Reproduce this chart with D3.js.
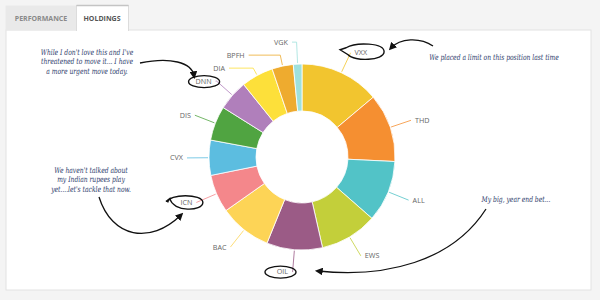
<!DOCTYPE html>
<html>
<head>
<meta charset="utf-8">
<script src="https://cdn.jsdelivr.net/npm/d3@7"></script>
<style>
  html, body { margin: 0; padding: 0; background: #f4f4f4; }
  svg { display: block; }
</style>
</head>
<body>
<div id="chart"></div>
<script>
// holdings, clockwise from 12 o'clock
const tickers = ["VXX", "THD", "ALL", "EWS", "OIL", "BAC", "ICN", "CVX", "DIS", "DNN", "DIA", "BPFH", "VGK"];
const weights = [13.9, 11.9, 10.7, 10.0, 9.7, 9.1, 6.6, 6.1, 6.0, 5.3, 5.6, 3.7, 1.5];
const colors = ["#f2c52f", "#f58f31", "#52c3c7", "#c3cf3a", "#9b5b86", "#fdd456", "#f4878b",
                "#5cbde0", "#50a441", "#b07fbb", "#fde03a", "#eeab2f", "#9fe1dc"];

const tabs = ["PERFORMANCE", "HOLDINGS"];

// hand written notes
const notes = [
  { lines: ["While I don't love this and I've", "threatened to move it... I have", "a more urgent move today."], x: 87, y: 55 },
  { lines: ["We placed a limit on this position last time"], x: 494, y: 60 },
  { lines: ["We haven't talked about", "my Indian rupees play", "yet....let's tackle that now."], x: 91, y: 173 },
  { lines: ["My big, year end bet..."], x: 516, y: 202 }
];
const circled = ["DNN", "VXX", "ICN", "OIL"];

const width = 600, height = 300;
const svg = d3.select("#chart").append("svg")
    .attr("width", width)
    .attr("height", height);

// panel + tabs
svg.append("rect").attr("x", 6).attr("y", 30).attr("width", 585).attr("height", 260)
    .attr("fill", "#fff").attr("stroke", "#e2e2e2");
svg.append("rect").attr("x", 5.5).attr("y", 5.5).attr("width", 71).attr("height", 25)
    .attr("fill", "#e9e9e9");
svg.append("rect").attr("x", 76.5).attr("y", 5.5).attr("width", 52).attr("height", 25)
    .attr("fill", "#fff").attr("stroke", "#dcdcdc");
svg.append("line").attr("x1", 76.5).attr("x2", 128.5).attr("y1", 5.5).attr("y2", 5.5)
    .attr("stroke", "#c4c4c4").attr("stroke-width", 1.5);
svg.append("rect").attr("x", 77).attr("y", 29).attr("width", 51).attr("height", 3).attr("fill", "#fff");
svg.selectAll(".tab")
    .data(tabs)
    .enter()
    .append("text")
    .attr("class", "tab")
    .attr("x", (d, i) => i == 0 ? 41 : 102)
    .attr("y", 21)
    .attr("text-anchor", "middle")
    .style("font-family", "'Open Sans', sans-serif")
    .style("font-size", "7px")
    .style("font-weight", "bold")
    .attr("fill", (d, i) => i == 0 ? "#8a8a8a" : "#555")
    .text(d => d);

// donut
const cx = 302, cy = 157;
const R = 93, r0 = 46, Rl = 115;
const data = tickers.map((t, i) => ({ name: t, value: weights[i], color: colors[i] }));

const pie = d3.pie().value(d => d.value).sort(null);
const arc = d3.arc().innerRadius(r0).outerRadius(R);
const arcs = pie(data);

const g = svg.append("g").attr("transform", `translate(${cx},${cy})`);
g.selectAll("path.slice")
    .data(arcs)
    .enter()
    .append("path")
    .attr("class", "slice")
    .attr("d", arc)
    .attr("fill", d => d.data.color)
    .attr("stroke", "#fff")
    .attr("stroke-width", 0.8);

// label positions: natural spot on radius Rl, then push apart vertically
const mid = d => (d.startAngle + d.endAngle) / 2;
arcs.forEach(d => {
    const a = mid(d);
    d.side = Math.sin(a) < 0 ? -1 : 1;
    d.ly = -Rl * Math.cos(a);
});
[-1, 1].forEach(side => {
    const grp = arcs.filter(d => d.side == side).sort((a, b) => a.ly - b.ly);
    for (let i = 1; i < grp.length; i++) {
        if (grp[i].ly - grp[i - 1].ly < 13) grp[i].ly = grp[i - 1].ly + 13;
    }
});
arcs.forEach(d => {
    const a = mid(d);
    d.lx = d.side * Math.sqrt(Math.max(Rl * Rl - d.ly * d.ly, 100));
    const c = Math.cos(a);
    let rr = Math.abs(c) > 0.05 ? -d.ly / c : Rl;
    rr = Math.max(R + 4, Math.min(Rl, rr));
    d.pts = [[(R + 1) * Math.sin(a), -(R + 1) * Math.cos(a)],
             [rr * Math.sin(a), -rr * Math.cos(a)],
             [d.lx, d.ly]];
});

g.selectAll("polyline")
    .data(arcs)
    .enter()
    .append("polyline")
    .attr("points", d => d.pts.join(" "))
    .attr("fill", "none")
    .attr("stroke", d => d.data.color)
    .attr("stroke-width", 0.8);

g.selectAll("text.lbl")
    .data(arcs)
    .enter()
    .append("text")
    .attr("class", "lbl")
    .attr("x", d => d.lx + d.side * 4)
    .attr("y", d => d.ly)
    .attr("dy", "0.35em")
    .attr("text-anchor", d => d.side < 0 ? "end" : "start")
    .style("font-family", "'Open Sans', sans-serif")
    .style("font-size", "7.2px")
    .attr("fill", "#666")
    .text(d => d.data.name);

// circles drawn round some tickers
const ring = svg.append("g").attr("fill", "none").attr("stroke", "#111").attr("stroke-width", 1.4);
arcs.filter(d => circled.includes(d.data.name)).forEach(d => {
    const w = d.data.name.length * 5 + 8;
    const ex = cx + d.lx + d.side * (4 + w / 2 - 4);
    const ey = cy + d.ly;
    if (d.data.name == "VXX") {
        ring.append("path")
            .attr("d", `M${ex - 16},${ey - 5} C${ex - 6},${ey - 11} ${ex + 22},${ey - 10} ${ex + 22},${ey - 1}`
                + ` C${ex + 22},${ey + 8} ${ex - 8},${ey + 9} ${ex - 14},${ey + 2} L${ex - 22},${ey - 3} Z`);
    } else if (d.data.name == "ICN") {
        ring.append("path")
            .attr("d", `M${ex - 17},${ey} C${ex - 17},${ey - 9} ${ex + 18},${ey - 9} ${ex + 18},${ey}`
                + ` C${ex + 18},${ey + 9} ${ex - 12},${ey + 10} ${ex - 15},${ey - 4} L${ex - 19},${ey - 1}`);
    } else {
        ring.append("ellipse").attr("cx", ex).attr("cy", ey + 0.5)
            .attr("rx", w / 2 + 4).attr("ry", 6);
    }
});

// notes
notes.forEach(n => {
    const t = svg.append("text")
        .attr("transform", `translate(${n.x},${n.y}) scale(0.75,1)`)
        .attr("text-anchor", "middle")
        .style("font-family", "'DejaVu Serif', serif")
        .style("font-style", "italic")
        .style("font-size", "8px")
        .attr("fill", "#2d3b6b");
    n.lines.forEach((l, i) => t.append("tspan").attr("x", 0).attr("dy", i == 0 ? 0 : 9.5).text(l));
});

// arrows
svg.append("defs").append("marker")
    .attr("id", "head")
    .attr("viewBox", "0 0 10 10")
    .attr("refX", 6).attr("refY", 5)
    .attr("markerWidth", 6).attr("markerHeight", 6)
    .attr("orient", "auto")
    .append("path").attr("d", "M0,0 L10,5 L0,10 Z").attr("fill", "#111");

const arrows = [
    "M140,63 C170,57 192,62 194,76",
    "M433,46 C420,37 400,38 391,48",
    "M99,197 C112,238 150,245 181,215",
    "M486,209 C452,262 385,278 318,271"
];
svg.selectAll(".arrow")
    .data(arrows)
    .enter()
    .append("path")
    .attr("class", "arrow")
    .attr("d", d => d)
    .attr("fill", "none")
    .attr("stroke", "#111")
    .attr("stroke-width", 1.3)
    .attr("marker-end", "url(#head)");
</script>
</body>
</html>
